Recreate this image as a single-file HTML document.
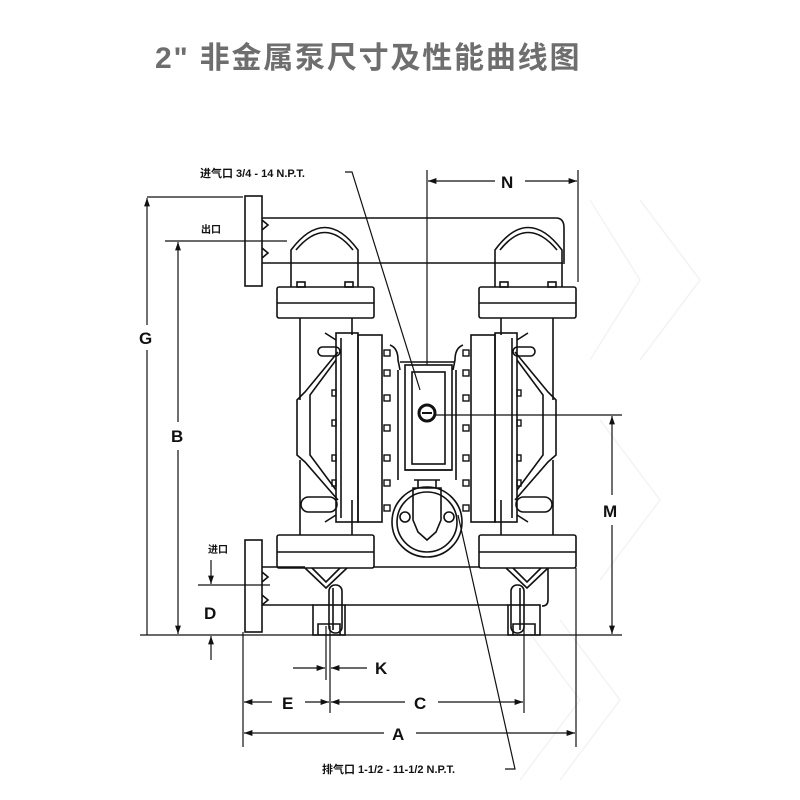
<!DOCTYPE html>
<html><head><meta charset="utf-8"><style>
html,body{margin:0;padding:0;background:#fff;}
svg{display:block}
.t{font-family:"Liberation Sans","Noto Sans CJK SC",sans-serif;font-weight:bold;fill:#111}
</style></head><body>
<svg width="800" height="800" viewBox="0 0 800 800" xmlns="http://www.w3.org/2000/svg">
<defs>
<marker id="ar" viewBox="0 0 10 10" refX="10" refY="5" markerWidth="9" markerHeight="7" orient="auto-start-reverse"><path d="M0,1.5 L10,5 L0,8.5 z" fill="#111"/></marker>
<g id="half" fill="none" stroke="#111" stroke-width="1.6">
  <path d="M291,287 L291,250 Q325,205 358,250 L358,287"/>
  <path d="M296,250 Q325,215 353,250"/>
  <rect x="297" y="282" width="8" height="5"/><rect x="345" y="282" width="8" height="5"/>
  <rect x="277" y="287" width="97" height="31" rx="2"/>
  <line x1="277" y1="303" x2="374" y2="303"/>
  <path d="M300,318 L300,400"/><path d="M352,318 L352,335"/>
  <path d="M300,460 L300,535"/><path d="M352,500 L352,535"/>
  <path d="M338,352 L305,392 L297,400 L297,455 L305,462 L338,500"/>
  <path d="M336,360 L310,395 L310,455 L336,490"/>
  <rect x="336" y="333" width="22" height="189"/>
  <rect x="358" y="335" width="24" height="187"/>
  <line x1="341" y1="338" x2="341" y2="518"/>
  <path d="M325,333 L336,340 M325,522 L336,515"/>
  <g stroke-width="1.4">
   <rect x="384" y="350" width="6" height="6"/><rect x="384" y="370" width="6" height="6"/>
   <rect x="384" y="395" width="6" height="6"/><rect x="384" y="425" width="6" height="6"/>
   <rect x="384" y="455" width="6" height="6"/><rect x="384" y="480" width="6" height="6"/>
   <rect x="384" y="505" width="6" height="6"/>
   <rect x="332" y="390" width="4" height="6"/><rect x="332" y="420" width="4" height="6"/><rect x="332" y="455" width="4" height="6"/><rect x="332" y="480" width="4" height="6"/>
  </g>
  <path d="M390,345 Q398,348 398,360 L400,370"/>
  <rect x="318" y="347" width="22" height="9" rx="4.5"/>
  <rect x="301" y="497" width="36" height="15" rx="7.5"/>
  <rect x="277" y="535" width="97" height="33" rx="2"/>
  <line x1="277" y1="552" x2="374" y2="552"/>
  <path d="M305,568 L326,588 L347,568"/>
  <path d="M312,568 L326,582 L340,568"/>
  <rect x="313" y="605" width="32" height="30"/>
  <path d="M318,635 L318,624 L340,624 L340,635"/>
  <rect x="329" y="585" width="13" height="48" rx="6"/>
  <line x1="333" y1="588" x2="333" y2="630"/>
</g>
</defs>

<g fill="none" stroke="#f3f3f3" stroke-width="1.5">
 <path d="M590,200 L640,280 L590,360"/><path d="M640,200 L700,280 L640,360"/>
 <path d="M600,420 L660,500 L600,580"/><path d="M520,620 L580,700 L520,780"/>
 <path d="M560,620 L620,700 L560,780"/>
</g>

<text class="t" x="155" y="68" font-size="30" letter-spacing="1.8" style="fill:#6e6e6e">2" 非金属泵尺寸及性能曲线图</text>

<use href="#half"/>
<use href="#half" transform="translate(853,0) scale(-1,1)"/>

<g fill="none" stroke="#111" stroke-width="1.6">
 <rect x="245" y="196" width="17" height="90"/>
 <path d="M262,218 L556,218 Q564,218 564,228 L564,262"/>
 <line x1="262" y1="263" x2="565" y2="263"/>
 <path d="M262,220 l6,5 l-6,5 M262,248 l6,5 l-6,5"/>
 <rect x="245" y="540" width="17" height="92"/>
 <line x1="262" y1="567" x2="305" y2="567"/>
 <line x1="262" y1="605" x2="313" y2="605"/>
 <line x1="345" y1="605" x2="508" y2="605"/>
 <path d="M374,567 L480,567"/>
 <path d="M262,572 l6,5 l-6,5 M262,595 l6,5 l-6,5"/>
 <path d="M548,568 L548,600 Q548,606 542,606"/>
 <rect x="405" y="365" width="47" height="105"/>
 <rect x="412" y="372" width="33" height="92"/>
 <line x1="405" y1="470" x2="452" y2="470"/>
 <circle cx="427" cy="413" r="8" stroke-width="3"/>
 <line x1="422" y1="413" x2="432" y2="413" stroke-width="2"/>
 <path d="M400,362 L455,362 M398,370 L398,480 M456,370 L456,480"/>
 <circle cx="427" cy="522" r="35"/>
 <circle cx="427" cy="522" r="30"/>
 <path d="M413,488 L441,488 L441,520 L436,532 L427,540 L418,532 L413,520 Z"/>
 <circle cx="405" cy="517" r="5"/><circle cx="449" cy="517" r="5"/>
 <path d="M414,480 L440,480 M418,480 L418,488 M436,480 L436,488"/>
</g>

<g fill="none" stroke="#111" stroke-width="1.2">
 <line x1="147" y1="197" x2="243" y2="197"/>
 <line x1="147" y1="198" x2="147" y2="325" marker-start="url(#ar)"/>
 <line x1="147" y1="350" x2="147" y2="635"/>
 <line x1="140" y1="635" x2="622" y2="635"/>
 <line x1="165" y1="241" x2="287" y2="241"/>
 <line x1="178" y1="242" x2="178" y2="422" marker-start="url(#ar)"/>
 <line x1="178" y1="450" x2="178" y2="634" marker-end="url(#ar)"/>
 <line x1="427" y1="170" x2="427" y2="365"/>
 <line x1="578" y1="170" x2="578" y2="282"/>
 <line x1="428" y1="181" x2="495" y2="181" marker-start="url(#ar)"/>
 <line x1="525" y1="181" x2="577" y2="181" marker-end="url(#ar)"/>
 <line x1="436" y1="415" x2="622" y2="415"/>
 <line x1="612" y1="416" x2="612" y2="495" marker-start="url(#ar)"/>
 <line x1="612" y1="525" x2="612" y2="634" marker-end="url(#ar)"/>
 <line x1="198" y1="585" x2="270" y2="585"/>
 <line x1="211" y1="560" x2="211" y2="584" marker-end="url(#ar)"/>
 <line x1="211" y1="660" x2="211" y2="636" marker-end="url(#ar)"/>
 <line x1="243" y1="632" x2="243" y2="747"/>
 <line x1="576" y1="568" x2="576" y2="747"/>
 <line x1="326" y1="626" x2="326" y2="680"/>
 <line x1="330" y1="626" x2="330" y2="713"/>
 <line x1="524" y1="626" x2="524" y2="713"/>
 <line x1="293" y1="668" x2="325" y2="668" marker-end="url(#ar)"/>
 <line x1="367" y1="668" x2="331" y2="668" marker-end="url(#ar)"/>
 <line x1="244" y1="702" x2="272" y2="702" marker-start="url(#ar)"/>
 <line x1="305" y1="702" x2="329" y2="702" marker-end="url(#ar)"/>
 <line x1="331" y1="702" x2="405" y2="702" marker-start="url(#ar)"/>
 <line x1="438" y1="702" x2="523" y2="702" marker-end="url(#ar)"/>
 <line x1="244" y1="733" x2="384" y2="733" marker-start="url(#ar)"/>
 <line x1="416" y1="733" x2="575" y2="733" marker-end="url(#ar)"/>
 <path d="M345,172 L352,172 L420,390"/>
 <path d="M505,769 L515,769 L458,515"/>
</g>

<g class="t">
 <text x="200" y="177" font-size="11">进气口 3/4 - 14 N.P.T.</text>
 <text x="322" y="773" font-size="11">排气口 1-1/2 - 11-1/2 N.P.T.</text>
 <text x="201" y="233" font-size="10">出口</text>
 <text x="208" y="553" font-size="10">进口</text>
 <text x="139" y="344" font-size="17">G</text>
 <text x="171" y="442" font-size="17">B</text>
 <text x="501" y="188" font-size="17">N</text>
 <text x="603" y="517" font-size="17">M</text>
 <text x="204" y="619" font-size="17">D</text>
 <text x="375" y="674" font-size="17">K</text>
 <text x="282" y="709" font-size="17">E</text>
 <text x="414" y="709" font-size="17">C</text>
 <text x="392" y="740" font-size="17">A</text>
</g>
</svg>
</body></html>
